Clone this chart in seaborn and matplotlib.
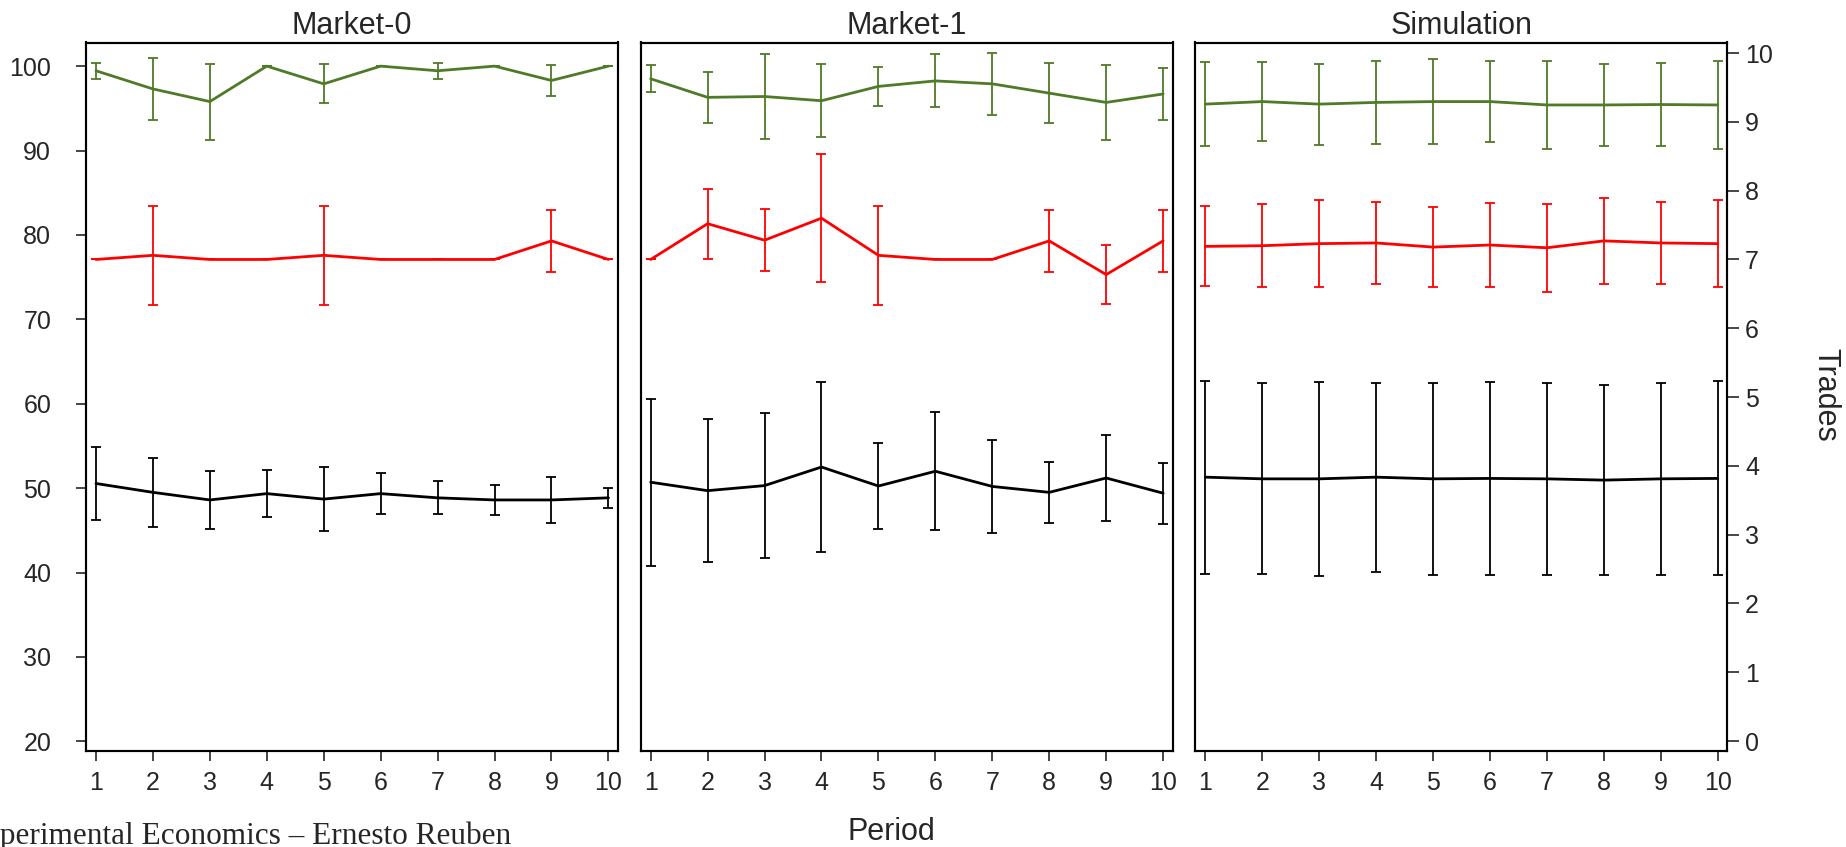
import numpy as np
import pandas as pd
import matplotlib
matplotlib.use("Agg")
import matplotlib.pyplot as plt
import seaborn as sns

# ---- data ----
periods = list(range(1, 11))
panels = ["Market-0", "Market-1", "Simulation"]

# efficiency (%), left axis
eff_mean = {
    "Market-0": [99.45, 97.3, 95.8, 100.0, 97.9, 100.0, 99.45, 100.0, 98.3, 100.0],
    "Market-1": [98.5, 96.3, 96.4, 95.9, 97.6, 98.25, 97.9, 96.8, 95.7, 96.7],
    "Simulation": [95.5, 95.8, 95.5, 95.7, 95.8, 95.8, 95.4, 95.4, 95.45, 95.4],
}
eff_err = {
    "Market-0": [0.95, 3.65, 4.5, 0.0, 2.3, 0.0, 0.95, 0.0, 1.8, 0.0],
    "Market-1": [1.6, 3.0, 5.0, 4.35, 2.35, 3.15, 3.7, 3.55, 4.45, 3.1],
    "Simulation": [5.0, 4.7, 4.8, 4.9, 5.0, 4.8, 5.2, 4.9, 4.95, 5.2],
}

# price, left axis
price_mean = {
    "Market-0": [50.55, 49.5, 48.6, 49.35, 48.7, 49.35, 48.85, 48.6, 48.6, 48.85],
    "Market-1": [50.7, 49.7, 50.3, 52.5, 50.25, 52.0, 50.2, 49.5, 51.2, 49.4],
    "Simulation": [51.3, 51.1, 51.1, 51.3, 51.1, 51.15, 51.1, 50.95, 51.1, 51.15],
}
price_err = {
    "Market-0": [4.3, 4.05, 3.4, 2.8, 3.75, 2.45, 1.95, 1.75, 2.7, 1.2],
    "Market-1": [9.9, 8.5, 8.6, 10.05, 5.1, 7.0, 5.5, 3.6, 5.15, 3.6],
    "Simulation": [11.45, 11.3, 11.5, 11.2, 11.35, 11.4, 11.4, 11.3, 11.4, 11.5],
}

# trades, right axis
trades_mean = {
    "Market-0": [7.0, 7.06, 7.0, 7.0, 7.06, 7.0, 7.0, 7.0, 7.27, 7.0],
    "Market-1": [7.0, 7.52, 7.28, 7.6, 7.06, 7.0, 7.0, 7.27, 6.78, 7.27],
    "Simulation": [7.19, 7.2, 7.23, 7.24, 7.18, 7.21, 7.17, 7.27, 7.24, 7.23],
}
trades_err = {
    "Market-0": [0.0, 0.72, 0.0, 0.0, 0.72, 0.0, 0.0, 0.0, 0.45, 0.0],
    "Market-1": [0.0, 0.51, 0.45, 0.93, 0.72, 0.0, 0.0, 0.45, 0.43, 0.45],
    "Simulation": [0.58, 0.6, 0.63, 0.59, 0.58, 0.61, 0.64, 0.62, 0.6, 0.63],
}

left_ticks = [20, 30, 40, 50, 60, 70, 80, 90, 100]
right_ticks = list(range(0, 11))

GREEN = "#4f7a28"
RED = "#ff0000"
BLACK = "#000000"

# ---- style ----
sns.set_theme(style="ticks")
plt.rcParams["font.family"] = ["Liberation Sans", "DejaVu Sans"]
plt.rcParams["axes.linewidth"] = 1.5
plt.rcParams["xtick.major.width"] = 1.2
plt.rcParams["ytick.major.width"] = 1.2

fig = plt.figure(figsize=(18.46, 8.47), dpi=100)

W, H = 1846, 847
boxes = [(86.0, 618.0), (640.7, 1172.7), (1195.3, 1727.3)]
top_px, bot_px = 42.5, 750.7


def draw_series(ax, mean, err, color, lw):
    df = pd.DataFrame({"Period": periods, "value": mean})
    sns.lineplot(data=df, x="Period", y="value", color=color, linewidth=lw,
                 ax=ax, legend=False, errorbar=None)
    ax.errorbar(periods, mean, yerr=err, fmt="none", ecolor=color,
                elinewidth=1.3, capsize=3.5, capthick=1.3)


for i, name in enumerate(panels):
    x0, x1 = boxes[i]
    rect = [x0 / W, 1 - bot_px / H, (x1 - x0) / W, (bot_px - top_px) / H]
    ax = fig.add_axes(rect)
    ax2 = ax.twinx()

    draw_series(ax, eff_mean[name], eff_err[name], GREEN, 2.0)
    draw_series(ax, price_mean[name], price_err[name], BLACK, 2.0)
    draw_series(ax2, trades_mean[name], trades_err[name], RED, 2.0)

    ax.set_xlim(0.825, 10.168)
    ax.set_ylim(18.89, 102.8)
    ax2.set_ylim(-0.141, 10.154)

    ax.set_xticks(periods)
    ax.set_xticklabels([str(p) for p in periods])
    ax.tick_params(axis="x", direction="out", length=7, pad=7.8, labelsize=18)
    ax.set_xlabel("")
    ax.set_ylabel("")
    ax2.set_ylabel("")
    ax.set_title(name, fontsize=22, pad=6)

    if i == 0:
        ax.set_yticks(left_ticks)
        ax.tick_params(axis="y", direction="out", length=7.4, pad=17.7, labelsize=18)
    else:
        ax.set_yticks([])

    if i == 2:
        ax2.set_yticks(right_ticks)
        ax2.tick_params(axis="y", direction="out", length=8.5, pad=4.3, labelsize=18)
    else:
        ax2.set_yticks([])

    for a in (ax, ax2):
        for s in a.spines.values():
            s.set_visible(True)
            s.set_color("black")
            s.set_linewidth(1.5)

fig.text(891 / W, 1 - 832 / H, "Period", ha="center", va="center", fontsize=22)
fig.text(1825 / W, 1 - 395 / H, "Trades", ha="center", va="center",
         rotation=270, fontsize=22)
fig.text(-35 / W, 1 - 836 / H, "Experimental Economics \u2013 Ernesto Reuben",
         ha="left", va="center", fontsize=22.5, family=["Liberation Serif", "DejaVu Serif"])

fig.savefig("out.png", dpi=100)
